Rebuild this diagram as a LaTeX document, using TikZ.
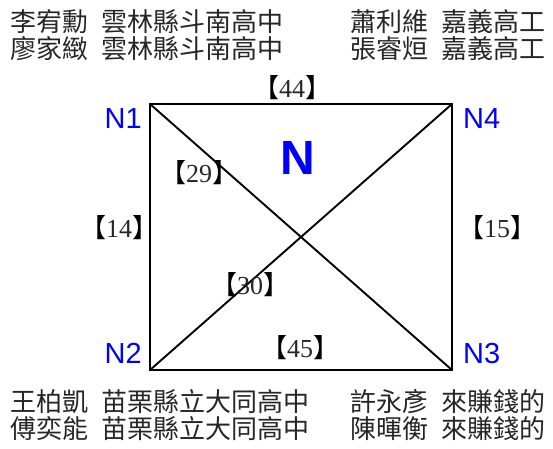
\documentclass[tikz,border=0pt]{standalone}
\usepackage{fontspec}
\setmainfont{Liberation Serif}
\setsansfont{Liberation Sans}
\newfontfamily\cjk{Noto Sans CJK TC}
\usepackage{tikz}
\usetikzlibrary{positioning,calc}
\definecolor{nblue}{RGB}{0,0,255}
\tikzset{
  vlabel/.style={inner sep=0pt,text=nblue,font=\sffamily\fontsize{29}{32}\selectfont},
  biglabel/.style={inner sep=0pt,text=nblue,font=\sffamily\bfseries\fontsize{48}{52}\selectfont},
  elabel/.style={inner sep=0pt,text=black!85,font=\fontsize{26}{30}\selectfont},
  team/.style={inner sep=0pt,anchor=base west,text=black!85,font=\cjk\fontsize{26}{30}\selectfont},
  link/.style={line width=1.9pt}
}
\newcommand{\wt}[1]{{\cjk\color{black}【}#1{\cjk\color{black}】}}
\newcommand{\gap}{\hspace{0.5em}}

\begin{document}
\begin{tikzpicture}[x=1pt,y=-1pt]
\useasboundingbox (0,0) rectangle (553,448);
% corners of the square
\coordinate (N1) at (150,104);
\coordinate (N4) at (452,104);
\coordinate (N2) at (150,370);
\coordinate (N3) at (452,370);
\draw[link] (N1) -- (N4) -- (N3) -- (N2) -- cycle;
\draw[link] (N1) -- (N3);
\draw[link] (N4) -- (N2);
% corner names
\node[vlabel,anchor=base east] (n1) at (142,128) {N1};
\node[vlabel,anchor=base west] (n4) at (463,128) {N4};
\node[vlabel,anchor=base east] (n2) at (142,363) {N2};
\node[vlabel,anchor=base west] (n3) at (463,363) {N3};
\node[biglabel] (nn) at (298,158) {N};
% edge weights
\node[elabel] (w44) at (292,88) {\wt{44}};
\node[elabel] (w29) at (199,173) {\wt{29}};
\node[elabel] (w14) at (119,228) {\wt{14}};
\node[elabel] (w15) at (497,228) {\wt{15}};
\node[elabel] (w30) at (250,285) {\wt{30}};
\node[elabel] (w45) at (300,348) {\wt{45}};
% teams
\node[team] (t1a) at (10,31) {李宥勳\gap 雲林縣斗南高中};
\node[team] (t1b) at (10,58) {廖家緻\gap 雲林縣斗南高中};
\node[team] (t4a) at (350,31) {蕭利維\gap 嘉義高工};
\node[team] (t4b) at (350,58) {張睿烜\gap 嘉義高工};
\node[team] (t2a) at (10,411) {王柏凱\gap 苗栗縣立大同高中};
\node[team] (t2b) at (10,438) {傅奕能\gap 苗栗縣立大同高中};
\node[team] (t3a) at (350,411) {許永彥\gap 來賺錢的};
\node[team] (t3b) at (350,438) {陳暉衡\gap 來賺錢的};
\end{tikzpicture}
\end{document}
